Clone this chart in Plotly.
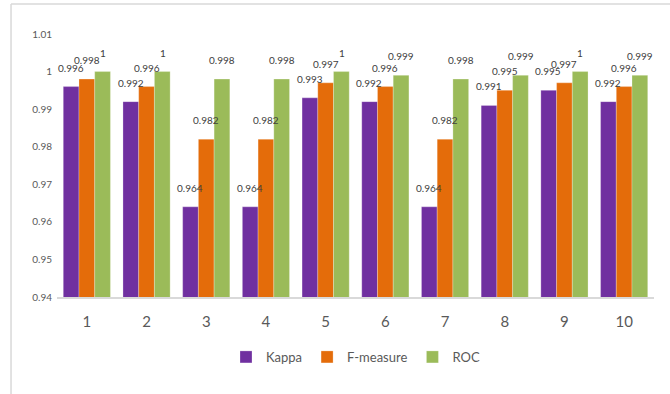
import plotly.graph_objects as go

categories = ["1", "2", "3", "4", "5", "6", "7", "8", "9", "10"]
kappa = [0.996, 0.992, 0.964, 0.964, 0.993, 0.992, 0.964, 0.991, 0.995, 0.992]
fmeasure = [0.998, 0.996, 0.982, 0.982, 0.997, 0.996, 0.982, 0.995, 0.997, 0.996]
roc = [1, 1, 0.998, 0.998, 1, 0.999, 0.998, 0.999, 1, 0.999]
series_names = ["Kappa", "F-measure", "ROC"]
colors = ["#7030A0", "#E46C0A", "#9BBB59"]
y_ticks = [0.94, 0.95, 0.96, 0.97, 0.98, 0.99, 1.0, 1.01]
y_tick_text = ["0.94", "0.95", "0.96", "0.97", "0.98", "0.99", "1", "1.01"]

FONT = "Lato, 'Open Sans', sans-serif"

xpos = list(range(1, len(categories) + 1))

fig = go.Figure()
series = [kappa, fmeasure, roc]
for name, vals, col in zip(series_names, series, colors):
    fig.add_trace(go.Bar(
        x=xpos, y=vals, name=name,
        marker=dict(color=col, line=dict(color="rgba(255,255,255,0.5)", width=0.5)),
    ))

# data labels
shifts = [-16, 0, 16]
annotations = []
for vals, sh in zip(series, shifts):
    for xp, v in zip(xpos, vals):
        annotations.append(dict(
            x=xp, y=v, xref="x", yref="y", text=f"{v:g}", showarrow=False,
            xshift=sh, yshift=11, yanchor="bottom",
            font=dict(family=FONT, size=10, color="#404040"),
        ))

fig.update_layout(
    width=670, height=394,
    margin=dict(l=57, r=16, t=34, b=97),
    paper_bgcolor="white", plot_bgcolor="white",
    barmode="group", bargap=0.21, bargroupgap=0,
    font=dict(family=FONT, color="#595959"),
    showlegend=True,
    legend=dict(orientation="h", x=0.5, xanchor="center", y=-0.228, yanchor="middle",
                font=dict(family=FONT, size=13, color="#595959"), traceorder="normal",
                itemwidth=30),
    annotations=annotations,
    shapes=[
        dict(type="line", xref="paper", yref="paper", x0=-0.077, x1=-0.077, y0=1.114, y1=-0.4,
             line=dict(color="#D9D9D9", width=1.5)),
        dict(type="line", xref="paper", yref="paper", x0=-0.077, x1=1.05, y0=1.114, y1=1.114,
             line=dict(color="#D9D9D9", width=1.5)),
    ],
)
fig.update_yaxes(range=[0.94, 1.01], tickvals=y_ticks, ticktext=y_tick_text,
                 showgrid=False, zeroline=False, showline=False,
                 tickfont=dict(family=FONT, size=10, color="#595959"), ticklen=0, ticks="",
                 ticklabelstandoff=4)
fig.update_xaxes(range=[0.5, len(categories) + 0.5], tickvals=xpos, ticktext=categories,
                 showgrid=False, zeroline=False, showline=True, linecolor="#D9D9D9", linewidth=1.5,
                 tickfont=dict(family=FONT, size=15, color="#595959"), ticks="",
                 ticklabelstandoff=10)

fig.write_html("out.html")
